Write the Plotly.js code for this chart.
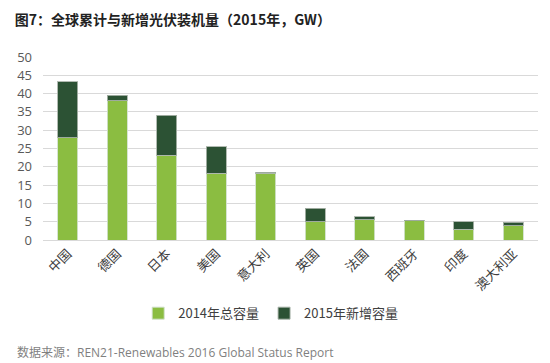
<!DOCTYPE html>
<html>
<head>
<meta charset="utf-8">
<script src="https://cdn.plot.ly/plotly-3.0.1.min.js"></script>
<style>html,body{margin:0;padding:0;background:#fff;}#chart{width:550px;height:363px;}</style>
</head>
<body>
<div id="chart"></div>
<script>
const countries = ["中国","德国","日本","美国","意大利","英国","法国","西班牙","印度","澳大利亚"];
const total2014 = [28.0, 38.1, 23.2, 18.2, 18.2, 5.0, 5.5, 5.3, 3.0, 3.9];
const added2015 = [15.2, 1.5, 10.9, 7.3, 0.3, 3.7, 0.9, 0.1, 2.0, 0.9];
const seriesNames = ["2014年总容量","2015年新增容量"];
const yTicks = [0,5,10,15,20,25,30,35,40,45,50];

const FONT = "'Open Sans', 'Noto Sans CJK SC', sans-serif";
const traces = [
  {type:"bar", name:seriesNames[0], x:countries, y:total2014,
   marker:{color:"#8BBD41", line:{color:"rgba(210,225,205,0.9)", width:1}}},
  {type:"bar", name:seriesNames[1], x:countries, y:added2015,
   marker:{color:"#2C5234", line:{color:"rgba(170,180,170,0.9)", width:1}}}
];
const layout = {
  width:550, height:363,
  margin:{l:43, r:12, t:57, b:123},
  barmode:"stack", bargap:0.6,
  paper_bgcolor:"#fff", plot_bgcolor:"#fff",
  font:{family:FONT, size:12, color:"#595959"},
  title:{text:"<b>图7：全球累计与新增光伏装机量（2015年，GW）</b>", x:0.027, xanchor:"left", xref:"container",
         y:0.945, yanchor:"middle", yref:"container", font:{family:"'Noto Sans CJK SC', sans-serif", size:14, color:"#222"}},
  xaxis:{tickangle:-45, tickfont:{family:"'Noto Sans CJK SC', sans-serif", size:13, color:"#404040"}, showgrid:false,
         showline:true, linecolor:"#d9d9d9", ticks:"", fixedrange:true},
  yaxis:{range:[0,50], tickvals:yTicks, showgrid:true, gridcolor:"#d9d9d9", gridwidth:1, zeroline:false,
         tickfont:{size:13, color:"#595959"}, ticks:"", ticklen:0, ticklabelstandoff:10, fixedrange:true},
  legend:{orientation:"h", x:0.46, xanchor:"center", y:-0.40, yanchor:"middle",
          font:{family:"'Noto Sans CJK SC', sans-serif", size:13, color:"#404040"}, traceorder:"normal", itemwidth:30},
  annotations:[{text:"数据来源：REN21-Renewables 2016 Global Status Report", xref:"paper", yref:"paper",
    x:-0.057, y:-0.613, xanchor:"left", yanchor:"middle", showarrow:false,
    font:{family:FONT, size:12, color:"#7f7f7f"}}]
};
Plotly.newPlot("chart", traces, layout, {displayModeBar:false, staticPlot:true});
</script>
</body>
</html>
